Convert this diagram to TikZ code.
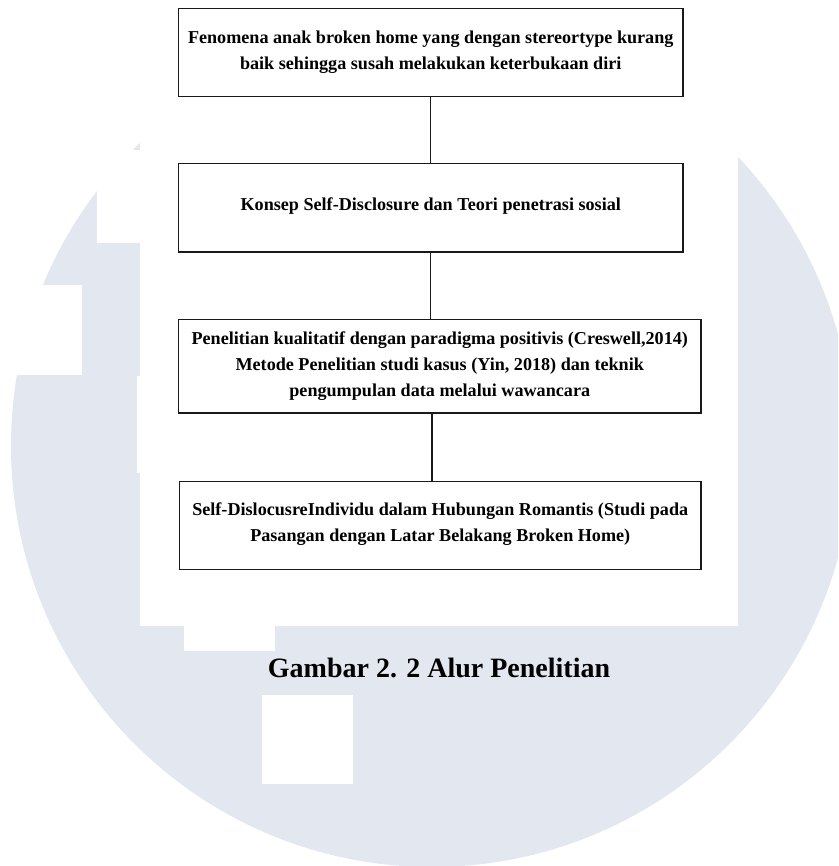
\documentclass[tikz,border=0pt]{standalone}
\usepackage{fontspec}
\setmainfont{Liberation Serif}
\usetikzlibrary{calc}
\definecolor{wmgray}{RGB}{227,231,240}
\definecolor{edge}{RGB}{25,25,25}

\begin{document}
\begin{tikzpicture}[
        x={(0.75pt,0pt)},
        y={(0pt,-0.75pt)},
        box/.style={rectangle, draw=edge, line width=1.1pt, inner sep=0pt},
        txt/.style={align=center, inner sep=0pt, font=\fontsize{13.6}{19.3}\selectfont\bfseries},
        link/.style={draw=edge, line width=1.1pt},
        ]
        \useasboundingbox (0,0) rectangle (838,866);
        
        % watermark behind the figure
        \begin{scope}
          \clip (0,0) rectangle (838,866);
          \fill[wmgray] (432,446) circle (421);
          \fill[white] (97,150) rectangle (190,243);
          \fill[white] (-10,285) rectangle (82,375);
          \fill[white] (137,376) rectangle (227,473);
          \fill[white] (184,560) rectangle (275,651);
          \fill[white] (262,695) rectangle (353,784);
          \fill[white] (140,0) rectangle (738,626);
        \end{scope}
        
        \node(fenomena)[box, minimum width=378.4pt, minimum height=66.2pt] at (430.75,52.45){};
        \node(konsep)[box, minimum width=378.4pt, minimum height=66.3pt] at (430.75,207.6){};
        \node(metode)[box, minimum width=391.9pt, minimum height=70pt] at (439.75,366.35){};
        \node(hasil)[box, minimum width=391.1pt, minimum height=65.9pt] at (440.25,525.4){};
        
        \node(fenomenaTxt)[txt] at (430.75,52){Fenomena anak broken home yang dengan stereortype kurang\\baik sehingga susah melakukan keterbukaan diri};
        \node(konsepTxt)[txt] at (430.75,206.5){Konsep Self-Disclosure dan Teori penetrasi sosial};
        \node(metodeTxt)[txt] at (439.75,366){Penelitian kualitatif dengan paradigma positivis (Creswell,2014)\\Metode Penelitian studi kasus (Yin, 2018) dan teknik\\pengumpulan data melalui wawancara};
        \node(hasilTxt)[txt] at (440.25,524){Self-DislocusreIndividu dalam Hubungan Romantis (Studi pada\\Pasangan dengan Latar Belakang Broken Home)};
        
        \draw[link](fenomena.south)--(konsep.north);
        \draw[link](konsep.south)--(konsep.south |- metode.north);
        \draw[link]([xshift=-5.8pt]metode.south)--([xshift=-5.8pt]metode.south |- hasil.north);
        
        \node(caption)[anchor=base, inner sep=0pt, font=\fontsize{21}{25}\selectfont\bfseries] at (439,677){Gambar 2. 2 Alur Penelitian};
        
      \end{tikzpicture}
\end{document}
